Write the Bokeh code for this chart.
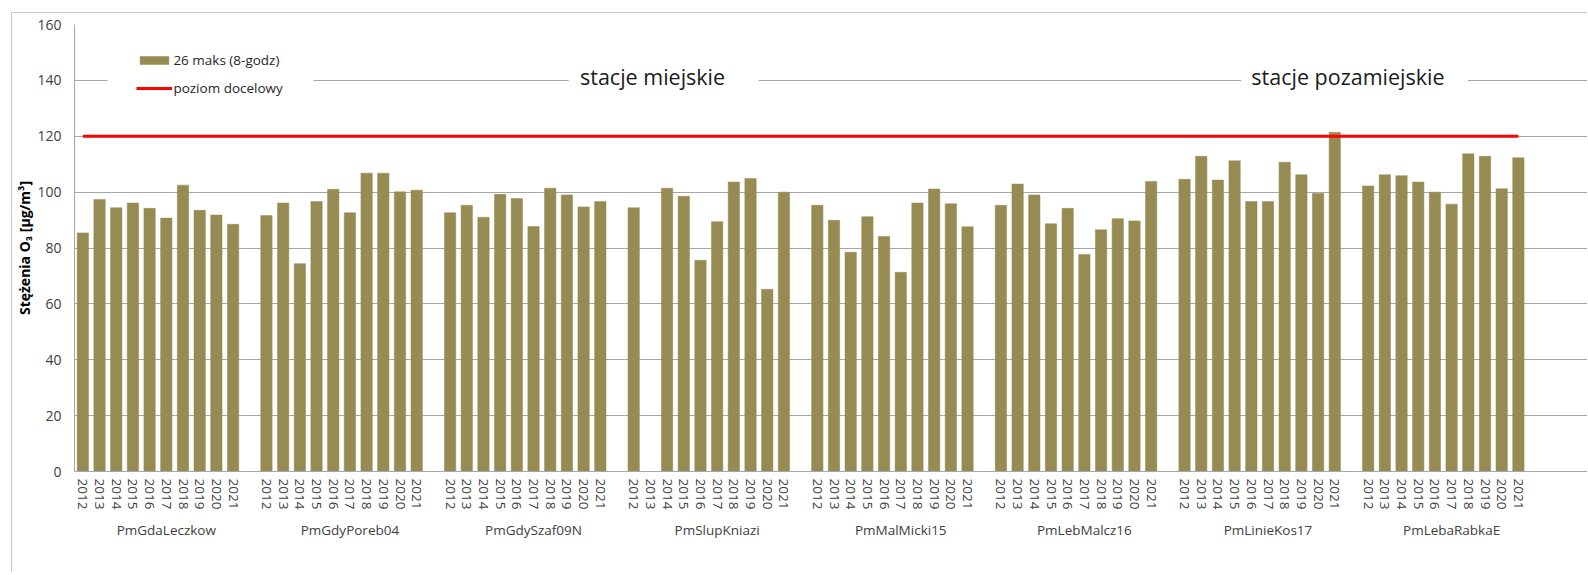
from bokeh.plotting import figure
from bokeh.models import (Range1d, FixedTicker, LinearAxis, Legend, LegendItem,
                          BoxAnnotation, Label, ColumnDataSource)
from bokeh.embed import file_html
from bokeh.resources import INLINE

# ---------------- data ----------------
STATIONS = ["PmGdaLeczkow", "PmGdyPoreb04", "PmGdySzaf09N", "PmSlupKniazi",
            "PmMalMicki15", "PmLebMalcz16", "PmLinieKos17", "PmLebaRabkaE"]
YEARS = ["2012", "2013", "2014", "2015", "2016", "2017", "2018", "2019", "2020", "2021"]

PmGdaLeczkow = [85.4, 97.4, 94.4, 96.1, 94.2, 90.7, 102.5, 93.5, 91.8, 88.5]
PmGdyPoreb04 = [91.6, 96.1, 74.4, 96.6, 101.0, 92.6, 106.8, 106.8, 100.1, 100.7]
PmGdySzaf09N = [92.6, 95.3, 91.0, 99.2, 97.7, 87.7, 101.4, 99.0, 94.7, 96.6]
PmSlupKniazi = [94.4, None, 101.4, 98.5, 75.6, 89.4, 103.6, 104.9, 65.2, 100.0]
PmMalMicki15 = [95.3, 89.9, 78.5, 91.2, 84.1, 71.3, 96.1, 101.1, 95.8, 87.6]
PmLebMalcz16 = [95.3, 102.9, 99.0, 88.7, 94.2, 77.7, 86.5, 90.5, 89.7, 103.8]
PmLinieKos17 = [104.6, 112.8, 104.3, 111.2, 96.6, 96.6, 110.7, 106.2, 99.5, 121.4]
PmLebaRabkaE = [102.2, 106.2, 105.9, 103.6, 100.0, 95.7, 113.7, 112.8, 101.2, 112.3]

VALUES = [PmGdaLeczkow, PmGdyPoreb04, PmGdySzaf09N, PmSlupKniazi,
          PmMalMicki15, PmLebMalcz16, PmLinieKos17, PmLebaRabkaE]

TARGET = 120
SERIES_LABEL = "26 maks (8-godz)"
TARGET_LABEL = "poziom docelowy"
SECTION_LABELS = ["stacje miejskie", "stacje pozamiejskie"]
Y_TICKS = [0, 20, 40, 60, 80, 100, 120, 140, 160]
Y_LABEL = "Stężenia O\u2083 [µg/m\u00b3]"

# ---------------- layout helpers ----------------
SLOTS_PER_GROUP = len(YEARS) + 1   # one blank category after each station
xs, tops = [], []
year_overrides = {}
for g, vals in enumerate(VALUES):
    for j, v in enumerate(vals):
        x = g * SLOTS_PER_GROUP + j
        year_overrides[x] = YEARS[j]
        if v is not None:
            xs.append(x)
            tops.append(v)
group_centers = [g * SLOTS_PER_GROUP + (SLOTS_PER_GROUP - 1) / 2 for g in range(len(STATIONS))]
group_overrides = {c: s for c, s in zip(group_centers, STATIONS)}
first_x = 0
last_x = (len(STATIONS) - 1) * SLOTS_PER_GROUP + len(YEARS) - 1

src = ColumnDataSource(dict(x=xs, top=tops))

FONT = "Open Sans"
BAR = "#968B52"
GRID = "#a6a6a6"
TXT = "#404040"

p = figure(width=1576, height=560,
           x_range=Range1d(-0.5, 90.2), y_range=Range1d(0, 160),
           x_axis_type=None,
           output_backend="svg", toolbar_location=None,
           min_border_left=62, min_border_right=0, min_border_top=11, min_border_bottom=102)
p.margin = (12, 0, 0, 11)
p.styles = {"border-left": "1px solid #c8c8c8", "border-top": "1px solid #c8c8c8"}
p.outline_line_color = None
p.background_fill_color = "white"
p.border_fill_color = "white"

bars = p.vbar(x="x", top="top", bottom=0, width=0.68, source=src,
              fill_color=BAR, line_color=BAR, line_width=0.5)
tline = p.line(x=[first_x, last_x], y=[TARGET, TARGET], line_color="#ff0000", line_width=3)

# y axis
p.yaxis.ticker = FixedTicker(ticks=Y_TICKS)
p.yaxis.axis_line_color = GRID
p.yaxis.major_tick_line_color = None
p.yaxis.major_tick_out = 0
p.yaxis.major_tick_in = 0
p.yaxis.minor_tick_line_color = None
p.yaxis.minor_tick_out = 0
p.yaxis.major_label_standoff = 13
p.yaxis.major_label_text_font = FONT
p.yaxis.major_label_text_font_size = "14px"
p.yaxis.major_label_text_color = TXT
p.yaxis.axis_label = Y_LABEL
p.yaxis.axis_label_text_font = FONT
p.yaxis.axis_label_text_font_size = "14px"
p.yaxis.axis_label_text_font_style = "bold"
p.yaxis.axis_label_text_color = "#000000"
p.yaxis.axis_label_standoff = 0
p.ygrid.grid_line_color = GRID
p.ygrid.grid_line_width = 1

# year axis
year_axis = LinearAxis(ticker=FixedTicker(ticks=sorted(year_overrides.keys())),
                       major_label_overrides=year_overrides)
year_axis.axis_line_color = GRID
year_axis.major_tick_line_color = None
year_axis.major_tick_out = 0
year_axis.major_tick_in = 0
year_axis.minor_tick_line_color = None
year_axis.minor_tick_out = 0
year_axis.major_label_orientation = "vertical"
year_axis.major_label_standoff = 7
year_axis.major_label_text_font = FONT
year_axis.major_label_text_font_size = "13.5px"
year_axis.major_label_text_color = TXT
p.add_layout(year_axis, "below")

# station axis
group_axis = LinearAxis(ticker=FixedTicker(ticks=group_centers),
                        major_label_overrides=group_overrides)
group_axis.axis_line_color = None
group_axis.major_tick_line_color = None
group_axis.major_tick_out = 0
group_axis.major_tick_in = 0
group_axis.minor_tick_line_color = None
group_axis.minor_tick_out = 0
group_axis.major_label_standoff = 8
group_axis.major_label_text_font = FONT
group_axis.major_label_text_font_size = "13.5px"
group_axis.major_label_text_color = TXT
p.add_layout(group_axis, "below")

# white backgrounds interrupting the 140 gridline
for l, r in [(1.48, 13.82), (29.11, 40.48), (69.39, 82.97)]:
    p.add_layout(BoxAnnotation(left=l, right=r, bottom=131, top=150,
                               fill_color="white", fill_alpha=1.0, line_color=None))

for x, txt in [(34.13, SECTION_LABELS[0]), (75.79, SECTION_LABELS[1])]:
    p.add_layout(Label(x=x, y=141.5, text=txt, text_align="center", text_baseline="middle",
                       text_font=FONT, text_font_size="21.5px", text_color="#1a1a1a"))

legend = Legend(items=[LegendItem(label=SERIES_LABEL, renderers=[bars]),
                       LegendItem(label=TARGET_LABEL, renderers=[tline])],
                location=(62.4, 374), orientation="vertical",
                glyph_width=36, glyph_height=10, label_height=10,
                label_standoff=1, spacing=10, padding=0, margin=0,
                border_line_color=None, background_fill_alpha=0,
                label_text_font=FONT, label_text_font_size="13.5px",
                label_text_color="#262626")
p.add_layout(legend, "center")

open("out.html", "w").write(file_html(p, INLINE))
